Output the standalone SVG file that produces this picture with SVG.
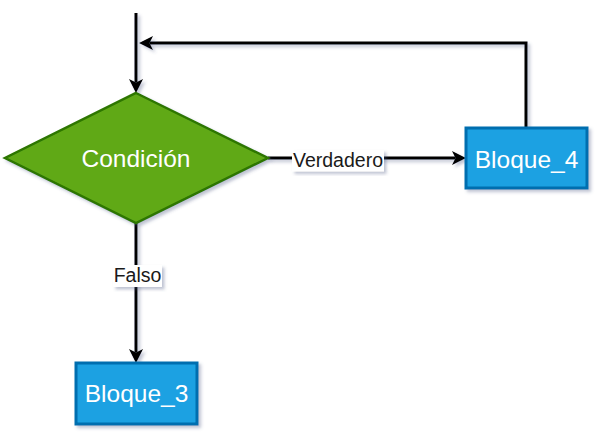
<svg xmlns="http://www.w3.org/2000/svg" width="599" height="436" viewBox="0 0 599 436">
<style>
.edge{fill:none;stroke:#000;stroke-width:3;marker-end:url(#arr)}
.lbl{font-family:"Liberation Sans",Arial,sans-serif;font-size:19.5px;fill:#1a1a1a;text-anchor:middle}
.lblbg{fill:#fff;filter:url(#sh)}
.box{fill:#1BA1E2;stroke:#006EAF;stroke-width:3;filter:url(#sh)}
.t{font-family:"Liberation Sans",Arial,sans-serif;font-size:24.5px;fill:#fff;text-anchor:middle}
</style>
<defs>
<filter id="sh" x="-20%" y="-20%" width="140%" height="140%">
<feDropShadow dx="2.5" dy="2.5" stdDeviation="1.5" flood-color="#4a5580" flood-opacity="0.35"/>
</filter>
<marker id="arr" markerUnits="userSpaceOnUse" markerWidth="16" markerHeight="16" refX="3.5" refY="7" orient="auto" viewBox="0 0 16 16">
<path d="M0,0 L14,7 L0,14 L3.5,7 Z" fill="#000"/>
</marker>
</defs>
<g id="connectors" filter="url(#sh)">
<path class="edge" d="M136,13 V82.5"/>
<path class="edge" d="M526,128 V43 H149.5"/>
<path class="edge" d="M268,158 H455.5"/>
<path class="edge" d="M136,223 V352.5"/>
</g>
<g id="condicion">
<polygon points="136,93 268,158 136,223 5,158" fill="#60A917" stroke="#2D7600" stroke-width="2.5" filter="url(#sh)"/>
<text class="t" x="136" y="167">Condición</text>
</g>
<g id="bloque4">
<rect class="box" x="466" y="128" width="121" height="60"/>
<text class="t" x="526.5" y="167.5">Bloque_4</text>
</g>
<g id="bloque3">
<rect class="box" x="76" y="363" width="121" height="61"/>
<text class="t" x="136.5" y="402">Bloque_3</text>
</g>
<g id="labels">
<rect class="lblbg" x="292" y="150" width="92" height="21.5"/>
<text class="lbl" x="338" y="166.5">Verdadero</text>
<rect class="lblbg" x="113" y="265" width="49" height="22"/>
<text class="lbl" x="137.5" y="282">Falso</text>
</g>
</svg>
